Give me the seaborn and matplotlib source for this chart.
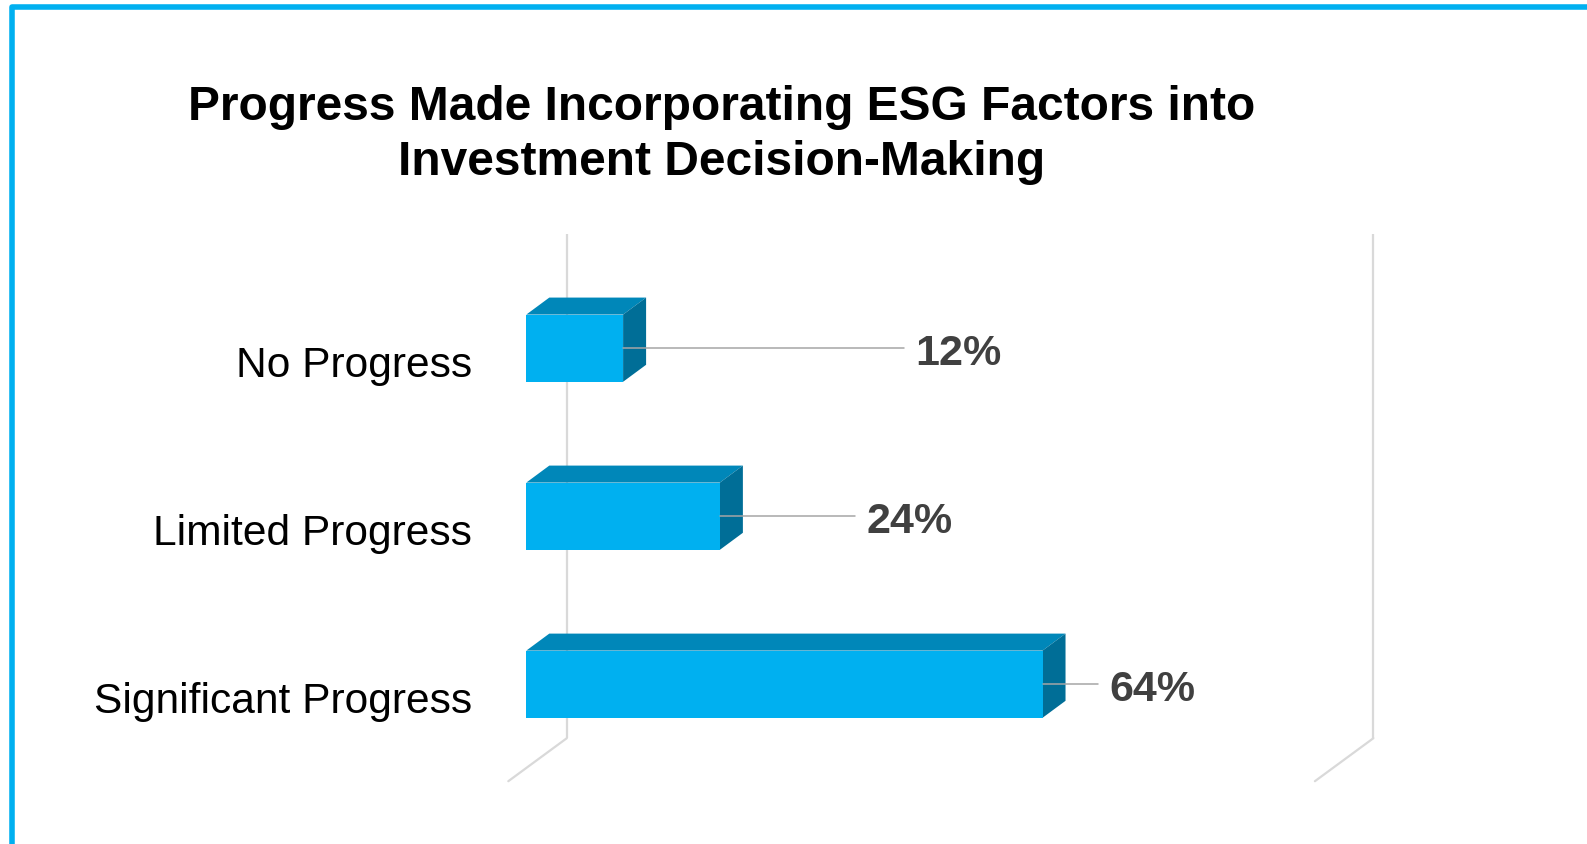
import matplotlib
matplotlib.use("Agg")
import matplotlib.pyplot as plt
import matplotlib.transforms as mtrans
from matplotlib.patches import Polygon, Rectangle
import seaborn as sns
import pandas as pd

# ---- data ----
categories = ["No Progress", "Limited Progress", "Significant Progress"]
values = [12, 24, 64]
value_labels = ["12%", "24%", "64%"]
title = "Progress Made Incorporating ESG Factors into\nInvestment Decision-Making"

# ---- layout / style ----
label_anchor_x = [46.8, 40.8, 70.9]   # where the leader lines end (x units)
FRONT = "#00B0F0"
TOP = "#0087B9"
SIDE = "#006E97"
GRID = "#D9D9D9"
LEADER = "#A6A6A6"
TEXT_DARK = "#404040"

sns.set_theme(style="white")
plt.rcParams["font.family"] = ["Liberation Sans", "DejaVu Sans"]

W, H, DPI = 1587, 844, 100
fig = plt.figure(figsize=(W / DPI, H / DPI), dpi=DPI)
fig.patch.set_facecolor("white")

ax_l, ax_b, ax_w, ax_h = 526.3 / W, 0.0898, 806.6 / W, 0.5972
ax = fig.add_axes([ax_l, ax_b, ax_w, ax_h])
ax.set_facecolor("none")

df = pd.DataFrame({"category": categories, "value": values})
sns.barplot(data=df, x="value", y="category", orient="h", width=0.4,
            color=FRONT, saturation=1, ax=ax, zorder=3, linewidth=0)

ax.set_xlim(0, 100)
ax.set_ylim(2.5, -0.5)
for s in ax.spines.values():
    s.set_visible(False)
ax.set_xticks([])
ax.set_xlabel("")
ax.set_ylabel("")
ax.tick_params(axis="y", length=0, pad=39, labelsize=30.6, labelcolor="black")

# shift category labels slightly down (3D floor alignment)
shift = mtrans.ScaledTranslation(0, -0.13, fig.dpi_scale_trans)
for lab in ax.get_yticklabels():
    lab.set_transform(lab.get_transform() + shift)

# pixel scales for depth conversion
px_per_x = ax_w * W / 100.0
px_per_y = ax_h * H / 3.0
dep_dx = 23 / px_per_x
dep_dy = 17 / px_per_y

# 3D faces for each bar
for p in ax.patches:
    x0, y0 = p.get_x(), p.get_y()
    w, h = p.get_width(), p.get_height()
    x1 = x0 + w
    ytop, ybot = min(y0, y0 + h), max(y0, y0 + h)
    top = Polygon([(x0, ytop), (x1, ytop), (x1 + dep_dx, ytop - dep_dy),
                   (x0 + dep_dx, ytop - dep_dy)], closed=True,
                  facecolor=TOP, edgecolor="none", zorder=2, clip_on=False)
    side = Polygon([(x1, ytop), (x1 + dep_dx, ytop - dep_dy),
                    (x1 + dep_dx, ybot - dep_dy), (x1, ybot)], closed=True,
                   facecolor=SIDE, edgecolor="none", zorder=2, clip_on=False)
    ax.add_patch(top)
    ax.add_patch(side)

# back-wall gridlines and floor diagonals at 0 and 100
xt = ax.get_xaxis_transform()
back = xt + mtrans.ScaledTranslation(0.405, 0.30, fig.dpi_scale_trans)
front_t = xt + mtrans.ScaledTranslation(-0.18, -0.13, fig.dpi_scale_trans)
inv = ax.transData.inverted()
for gx in [0, 100]:
    ax.plot([gx, gx], [0, 1], transform=back, color=GRID, lw=1.6,
            zorder=1, clip_on=False, solid_capstyle="butt")
    pb = inv.transform(back.transform((gx, 0)))
    pf = inv.transform(front_t.transform((gx, 0)))
    ax.plot([pb[0], pf[0]], [pb[1], pf[1]], color=GRID, lw=1.6, zorder=1,
            clip_on=False)

# leader lines and value labels
for i, (v, lx, txt) in enumerate(zip(values, label_anchor_x, value_labels)):
    ax.plot([v, lx], [i, i], color=LEADER, lw=1.1, zorder=4, clip_on=False)
    ax.annotate(txt, xy=(lx, i), xytext=(8, -4), textcoords="offset points",
                ha="left", va="center", fontsize=31, fontweight="bold",
                color=TEXT_DARK, annotation_clip=False)

# title
fig.text(721.6 / W, 1 - 135 / H, title, ha="center", va="center",
         fontsize=34.5, fontweight="bold", color="black", linespacing=1.3)

# blue frame (top and left visible)
frame = Rectangle((12 / W, -0.1), 1.2, 1 - 6.8 / H + 0.1,
                  transform=fig.transFigure, fill=False, edgecolor=FRONT,
                  linewidth=4.0, joinstyle="round", zorder=10)
fig.patches.append(frame)

fig.savefig("out.png", dpi=DPI, facecolor="white")
